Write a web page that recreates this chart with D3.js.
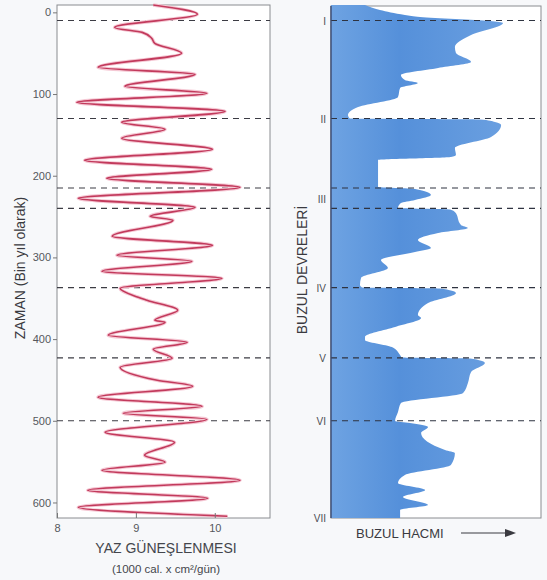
<!DOCTYPE html>
<html>
<head>
<meta charset="utf-8">
<script src="https://cdn.jsdelivr.net/npm/d3@7"></script>
<style>
  html, body { margin: 0; padding: 0; background: #f7f8fa; }
  svg { display: block; font-family: "Liberation Sans", Arial, sans-serif; }
</style>
</head>
<body>
<svg id="chart" width="547" height="580"></svg>
<script>
// ---- data ----
const insolAge = [-9, 2.4, 18.4, 24.5, 31.8, 37.9, 50.2, 67.3, 75.9, 90.6, 99.1, 110.2, 121.2, 134.6, 143.2,
  154.2, 167.7, 181.2, 192.2, 203.2, 214.2, 227.7, 238.7, 249.7, 254.6, 274.2, 285.2, 297.4, 304.8, 317.0,
  325.6, 337.8, 348.8, 352.5, 364.7, 377.0, 379.4, 395.3, 403.9, 412.5, 423.5, 434.5, 450.4, 457.8, 471.2,
  482.3, 490.8, 498.2, 514.1, 526.3, 542.2, 550.8, 560.6, 572.8, 585.1, 594.9, 605.9, 616.9];
const insolValue = [9.22, 9.78, 8.73, 9.08, 9.20, 9.24, 9.58, 8.52, 9.75, 8.86, 9.90, 8.25, 10.13, 8.82, 9.37,
  8.82, 9.97, 8.35, 9.96, 8.63, 10.32, 8.27, 9.75, 9.18, 9.47, 8.70, 9.97, 8.76, 9.71, 8.57,
  10.09, 8.80, 9.03, 9.14, 9.53, 9.24, 9.37, 8.65, 9.65, 9.22, 9.46, 8.80, 9.27, 9.72, 8.52,
  9.84, 8.84, 9.90, 8.61, 9.49, 9.11, 9.37, 8.57, 10.32, 8.39, 9.91, 8.27, 10.16];

const iceAge = [-9, -2.9, 3.2, 5.7, 10.6, 13.0, 27.7, 42.4, 49.8, 60.8, 68.1, 76.7, 82.8, 86.5, 92.6, 103.6,
  115.9, 125.7, 130.0, 131.2, 134.2, 137.9, 152.6, 166.1, 174.6, 177.1, 180.7, 193.0, 208.9, 213.8,
  216.2, 223.6, 229.7, 233.4, 239.5, 241.3, 244.4, 260.3, 264.0, 270.1, 278.7, 288.5, 293.4, 303.2,
  313.0, 325.2, 333.8, 336.8, 338.0, 343.5, 355.8, 370.5, 374.2, 385.2, 397.4, 401.0, 409.7, 419.4,
  422.5, 423.7, 429.2, 440.2, 453.7, 465.9, 478.2, 489.2, 500.2, 502.6, 507.5, 514.9, 535.7, 539.4,
  554.1, 566.3, 576.1, 584.7, 593.3, 603.1, 609.2, 619];
const iceVolume = [16.2, 23.3, 35.2, 42.4, 75.7, 81.9, 66.7, 59.0, 59.5, 66.7, 51.0, 33.3, 35.2, 41.4, 32.9, 31.9,
  12.9, 8.1, 9.0, 71.0, 78.1, 81.0, 76.2, 59.0, 59.5, 57.1, 22.4, 22.4, 22.4, 22.4,
  40.0, 47.6, 40.0, 33.3, 31.9, 56.7, 59.0, 61.9, 65.2, 51.0, 41.4, 47.6, 40.0, 23.8,
  27.1, 14.3, 13.8, 14.8, 51.9, 59.5, 46.2, 41.4, 42.9, 30.5, 16.2, 16.2, 29.0, 32.9,
  33.8, 66.2, 73.3, 66.7, 65.2, 62.9, 33.3, 31.9, 30.5, 37.6, 46.2, 42.9, 54.3, 59.0,
  57.1, 35.2, 31.9, 44.8, 34.3, 46.2, 32.9, 32.9];

const terminationAges = [10, 130, 215, 240, 337, 423, 500];
const timeTicks = [0, 100, 200, 300, 400, 500, 600];
const insolTicks = [8, 9, 10];
const stageLabels = ["I", "II", "III", "IV", "V", "VI", "VII"];
const stageAges = [10, 130, 228, 337, 423, 500, 619];

// ---- layout ----
const svg = d3.select("#chart");
const yScale = d3.scaleLinear().domain([-9, 619]).range([5, 518]);
const xL = d3.scaleLinear().domain([8, 10.7]).range([57, 270]);
const xR = d3.scaleLinear().domain([0, 100]).range([331, 541]);

// ---------- LEFT PANEL ----------
const left = svg.append("g");
left.append("rect").attr("x", xL.range()[0]).attr("y", 5)
  .attr("width", xL.range()[1] - xL.range()[0]).attr("height", 513)
  .attr("fill", "#ffffff").attr("stroke", "#8a8c90").attr("stroke-width", 1);

left.selectAll("line.dash").data(terminationAges).join("line")
  .attr("x1", xL.range()[0]).attr("x2", xL.range()[1])
  .attr("y1", d => yScale(d)).attr("y2", d => yScale(d))
  .attr("stroke", "#3c3c44").attr("stroke-width", 1.1).attr("stroke-dasharray", "6,5");

const insolPts = insolAge.map((a, i) => [insolValue[i], a]);
const line = d3.line().x(d => xL(d[0])).y(d => yScale(d[1])).curve(d3.curveMonotoneY);
left.append("path").attr("d", line(insolPts)).attr("fill", "none")
  .attr("stroke", "#f5c8d4").attr("stroke-width", 3.6).attr("stroke-linejoin", "round");
left.append("path").attr("d", line(insolPts)).attr("fill", "none")
  .attr("stroke", "#c23a5c").attr("stroke-width", 1.6).attr("stroke-linejoin", "round");

const yAxis = d3.axisLeft(yScale).tickValues(timeTicks).tickSize(4).tickPadding(2).tickFormat(d3.format("d"));
const gy = left.append("g").attr("transform", `translate(${xL.range()[0]},0)`).call(yAxis);
gy.select(".domain").remove();
gy.selectAll("text").attr("fill", "#55575c").style("font-size", "11px");
gy.selectAll("line").attr("stroke", "#777");

const xAxis = d3.axisBottom(xL).tickValues(insolTicks).tickSize(-5).tickPadding(6).tickFormat(d3.format("d"));
const gx = left.append("g").attr("transform", "translate(0,518)").call(xAxis);
gx.select(".domain").remove();
gx.selectAll("text").attr("fill", "#55575c").style("font-size", "11px");
gx.selectAll("line").attr("stroke", "#777");

left.append("text").attr("transform", "translate(25,268) rotate(-90)")
  .attr("text-anchor", "middle").attr("fill", "#3a3a40").style("font-size", "14px")
  .text("ZAMAN (Bin yıl olarak)");
left.append("text").attr("x", 166).attr("y", 553).attr("text-anchor", "middle")
  .attr("fill", "#44464c").style("font-size", "14px").text("YAZ GÜNEŞLENMESI");
left.append("text").attr("x", 166).attr("y", 573).attr("text-anchor", "middle")
  .attr("fill", "#44464c").style("font-size", "11.5px").text("(1000 cal. x cm²/gün)");

// ---------- RIGHT PANEL ----------
const right = svg.append("g");
right.append("rect").attr("x", xR.range()[0]).attr("y", 6)
  .attr("width", xR.range()[1] - xR.range()[0]).attr("height", 512)
  .attr("fill", "#ffffff").attr("stroke", "#8a8c90").attr("stroke-width", 1);

const defs = svg.append("defs");
const grad = defs.append("linearGradient").attr("id", "iceGrad")
  .attr("x1", "0").attr("x2", "1").attr("y1", "0").attr("y2", "0");
grad.append("stop").attr("offset", "0%").attr("stop-color", "#6ea3e2");
grad.append("stop").attr("offset", "40%").attr("stop-color", "#5590da");
grad.append("stop").attr("offset", "100%").attr("stop-color", "#6a9fe0");

const icePts = iceAge.map((a, i) => [iceVolume[i], a]);
const area = d3.area().y(d => yScale(d[1])).x0(xR(0)).x1(d => xR(d[0])).curve(d3.curveMonotoneY);
right.append("path").attr("d", area(icePts)).attr("fill", "url(#iceGrad)");

right.selectAll("line.dash").data(terminationAges).join("line")
  .attr("x1", xR.range()[0]).attr("x2", xR.range()[1])
  .attr("y1", d => yScale(d)).attr("y2", d => yScale(d))
  .attr("stroke", "#2e3340").attr("stroke-width", 1.1).attr("stroke-dasharray", "6,5");

right.append("line").attr("x1", xR(0)).attr("x2", xR(0)).attr("y1", 6).attr("y2", 518)
  .attr("stroke", "#3b4a70").attr("stroke-width", 1.4);

right.selectAll("text.stage").data(stageLabels).join("text")
  .attr("x", 326).attr("y", (d, i) => yScale(stageAges[i]) + 4)
  .attr("text-anchor", "end").attr("fill", "#4a4c52").style("font-size", "10px")
  .text(d => d);

right.append("text").attr("transform", "translate(307,270) rotate(-90)")
  .attr("text-anchor", "middle").attr("fill", "#3a3a40").style("font-size", "14px")
  .text("BUZUL DEVRELERİ");

right.append("text").attr("x", 356).attr("y", 538).attr("fill", "#3a3a40")
  .style("font-size", "13px").text("BUZUL HACMI");
right.append("line").attr("x1", 461).attr("x2", 512).attr("y1", 533).attr("y2", 533)
  .attr("stroke", "#3a3a40").attr("stroke-width", 1.2);
right.append("path").attr("d", "M505,529 L516,533 L505,537 Z").attr("fill", "#3a3a40");
</script>
</body>
</html>
